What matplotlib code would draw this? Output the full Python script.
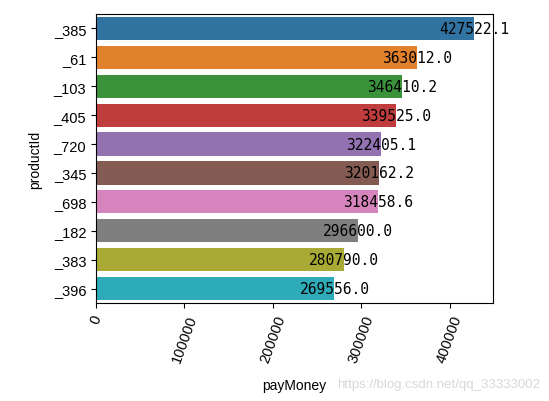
import matplotlib
matplotlib.use("Agg")
import matplotlib.pyplot as plt
from matplotlib.ticker import MultipleLocator
import seaborn as sns

products = ["_385", "_61", "_103", "_405", "_720", "_345", "_698", "_182", "_383", "_396"]
pay_money = [427522.1, 363012.0, 346410.2, 339525.0, 322405.1, 320162.2, 318458.6, 296600.0, 280790.0, 269556.0]

plt.rcParams['font.family'] = ['Liberation Sans', 'DejaVu Sans']
fig = plt.figure(figsize=(5.49, 4.02), dpi=100)
ax = fig.add_axes([96/549, 1-304/402, (493-96)/549, (304-15)/402])
sns.barplot(x=pay_money, y=products, hue=products, palette="tab10", saturation=0.75,
            orient="h", ax=ax, legend=False)
for i, v in enumerate(pay_money):
    ax.text(v, i, f"{v:.1f}", ha="center", va="center", fontsize=10.5,
            family=["DejaVu Sans Mono"], color="black")
ax.xaxis.set_major_locator(MultipleLocator(100000))
ax.set_xlabel("payMoney", fontsize=10, labelpad=10)
ax.set_ylabel("productId", fontsize=10, labelpad=8)
ax.tick_params(axis='x', rotation=70, labelsize=10.5)
ax.tick_params(axis='y', labelsize=10.5)
fig.text(540/549, 1-385/402, "https://blog.csdn.net/qq_33333002", ha="right", va="center",
         fontsize=9.5, color="#d8d8d8")
fig.savefig("out.png", dpi=100)
